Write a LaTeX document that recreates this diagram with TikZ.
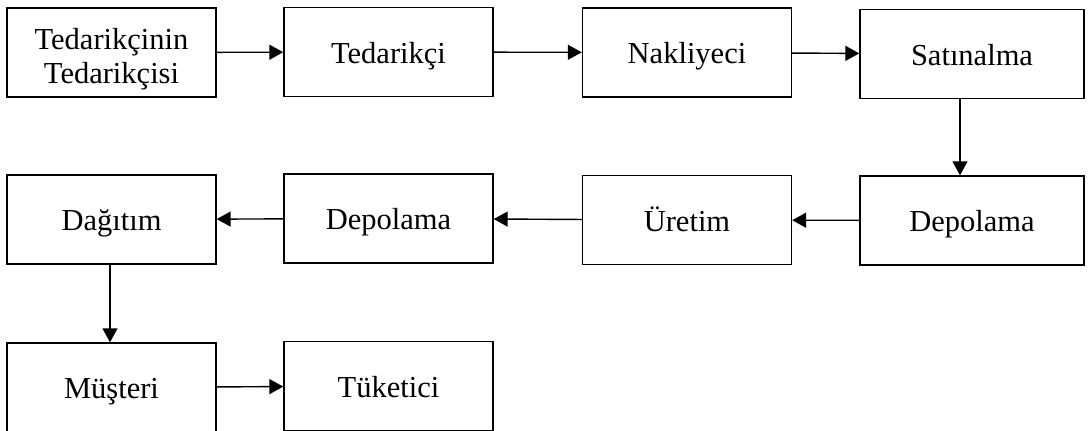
\documentclass[tikz,border=0pt]{standalone}
\usepackage{fontspec}
\setmainfont{Liberation Serif}
\usetikzlibrary{arrows.meta}

\begin{document}
\begin{tikzpicture}[x=1pt,y=-1pt,
  box/.style={draw,line width=1.4pt,minimum width=209pt,minimum height=89pt,inner sep=0pt,align=center,font=\fontsize{30.5}{34}\selectfont},
  onel/.style={box,text height=22pt,text depth=0pt},
  wide/.style={onel,minimum width=224pt},
  flow/.style={line width=1.4pt,-{Triangle[length=14pt,width=15pt]}}]
  \useasboundingbox (0,0) rectangle (1088,431);
  \clip (0,0) rectangle (1088,431);
  % first row
  \node[box] (tt) at (111.5,52.5) {\rule{0pt}{34pt}Tedarikçinin\\Tedarikçisi};
  \node[onel] (td) at (388.5,52) {Tedarikçi};
  \node[onel] (nk) at (687,52.5) {Nakliyeci};
  \node[wide] (sa) at (972,54) {Satınalma};
  % second row
  \node[onel] (dg) at (111.5,219.5) {Dağıtım};
  \node[onel] (dp) at (388.5,218.5) {Depolama};
  \node[onel] (ur) at (687,220) {Üretim};
  \node[wide] (dr) at (972,220.5) {Depolama};
  % third row
  \node[onel] (ms) at (111.5,387.5) {Müşteri};
  \node[onel] (tk) at (388.5,386) {Tüketici};
  \draw[flow] (tt) -- (td);
  \draw[flow] (td) -- (nk);
  \draw[flow] (nk) -- (sa);
  \draw[flow] ([xshift=-12pt]sa.south) -- ([xshift=-12pt]dr.north);
  \draw[flow] (dr) -- (ur);
  \draw[flow] (ur) -- (dp);
  \draw[flow] (dp) -- (dg);
  \draw[flow] ([xshift=-1.5pt]dg.south) -- ([xshift=-1.5pt]ms.north);
  \draw[flow] (ms) -- (tk);
\end{tikzpicture}
\end{document}
